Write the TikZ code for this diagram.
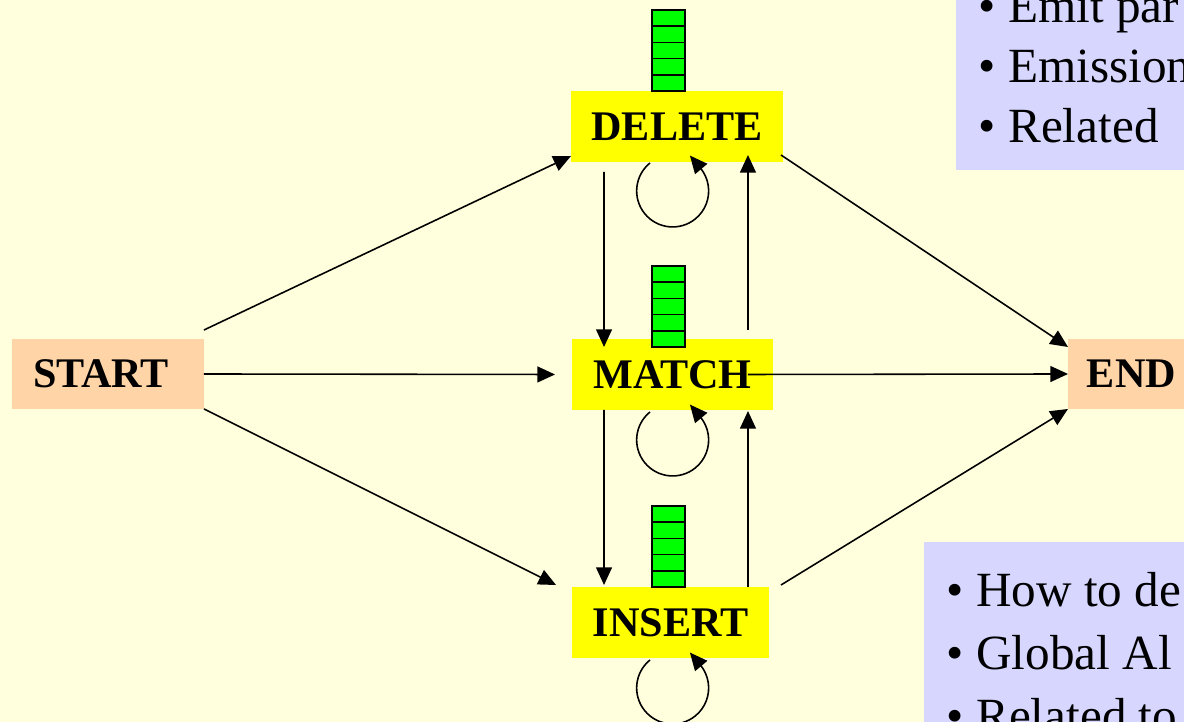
\documentclass[tikz,border=0pt]{standalone}
\usepackage{fontspec}
\setmainfont{Liberation Serif}
\usetikzlibrary{arrows.meta}
\definecolor{paper}{HTML}{FFFFDD}
\definecolor{peach}{HTML}{FFD5A8}
\definecolor{lavender}{HTML}{D6D6FF}
\definecolor{stateyellow}{HTML}{FFFF00}
\definecolor{emitgreen}{HTML}{00FF00}
\tikzset{
  hmmstate/.style={fill=stateyellow, minimum height=1.42cm, inner sep=0pt, outer sep=0pt,
    font=\fontsize{24}{28}\selectfont\bfseries},
  terminal/.style={fill=peach, minimum height=1.4cm, inner sep=0pt, outer sep=0pt,
    font=\fontsize{24}{28}\selectfont\bfseries},
  emitcell/.style={draw=black, fill=emitgreen, line width=0.9pt},
  bullettext/.style={anchor=base west, inner sep=0pt, font=\fontsize{28}{32}\selectfont},
}
\begin{document}
\begin{tikzpicture}[x=0.02cm, y=0.02cm, line width=0.9pt, >={Triangle[length=10pt,width=9pt]}]
      \fill[paper] (0,0) rectangle (1184,722);
      \useasboundingbox (0,0) rectangle (1184,722);
      \fill[lavender] (956,552) rectangle (1184,722);
      \fill[lavender] (924,0) rectangle (1184,180);
      \draw
        (978,699) node[bullettext] (top1){• Emit par}
        (978,639) node[bullettext] (top2){• Emission}
        (978,579) node[bullettext] (top3){• Related}
        (946,115) node[bullettext] (bot1){• How to de}
        (946,52) node[bullettext] (bot2){• Global Al}
        (946,-11) node[bullettext] (bot3){• Related to};
      \draw
        (108,348) node[terminal, minimum width=3.84cm, text width=3.0cm, align=left] (start){START}
        (1131.5,348) node[terminal, minimum width=2.54cm] (end){END}
        (677,595.5) node[hmmstate, minimum width=4.24cm] (delete){DELETE}
        (672.5,347.5) node[hmmstate, minimum width=4.02cm] (match){MATCH}
        (670.5,99.5) node[hmmstate, minimum width=3.94cm] (insert){INSERT};
      \foreach \base in {631,375,135}
        \foreach \k in {0,...,4}
          \draw[emitcell] (652,{\base+16.2*\k}) rectangle +(33,16.2);
      \begin{scope}[->]
        \draw ([shift={(0,9)}]start.north east) to ([shift={(0,6)}]delete.south west);
        \draw (start.east) to ([shift={(-17,0)}]match.west);
        \draw (start.south east) to ([shift={(-16,2)}]insert.north west);
        \draw ([shift={(-2,7)}]delete.south east) to ([shift={(0,-8)}]end.north west);
        \draw ([shift={(-25,0)}]match.east) to (end.west);
        \draw ([shift={(12,2)}]insert.north east) to (end.south west);
        \draw ([shift={(33,-10)}]delete.south west) to ([shift={(32,-8)}]match.north west);
        \draw ([shift={(-25,9)}]match.north east) to ([shift={(-35,7)}]delete.south east);
        \draw ([shift={(32,0)}]match.south west) to ([shift={(32,2)}]insert.north west);
        \draw ([shift={(-21,0)}]insert.north east) to ([shift={(-25,-1)}]match.south east);
        \draw ([shift={(-27,-1)}]delete.south) arc[start angle=129, end angle=400, radius=0.72cm] -- ++(130:16);
        \draw ([shift={(-22.5,-2)}]match.south) arc[start angle=129, end angle=400, radius=0.72cm] -- ++(130:16);
        \draw ([shift={(-20.5,-2)}]insert.south) arc[start angle=129, end angle=400, radius=0.72cm] -- ++(130:16);
      \end{scope}
    \end{tikzpicture}
\end{document}
